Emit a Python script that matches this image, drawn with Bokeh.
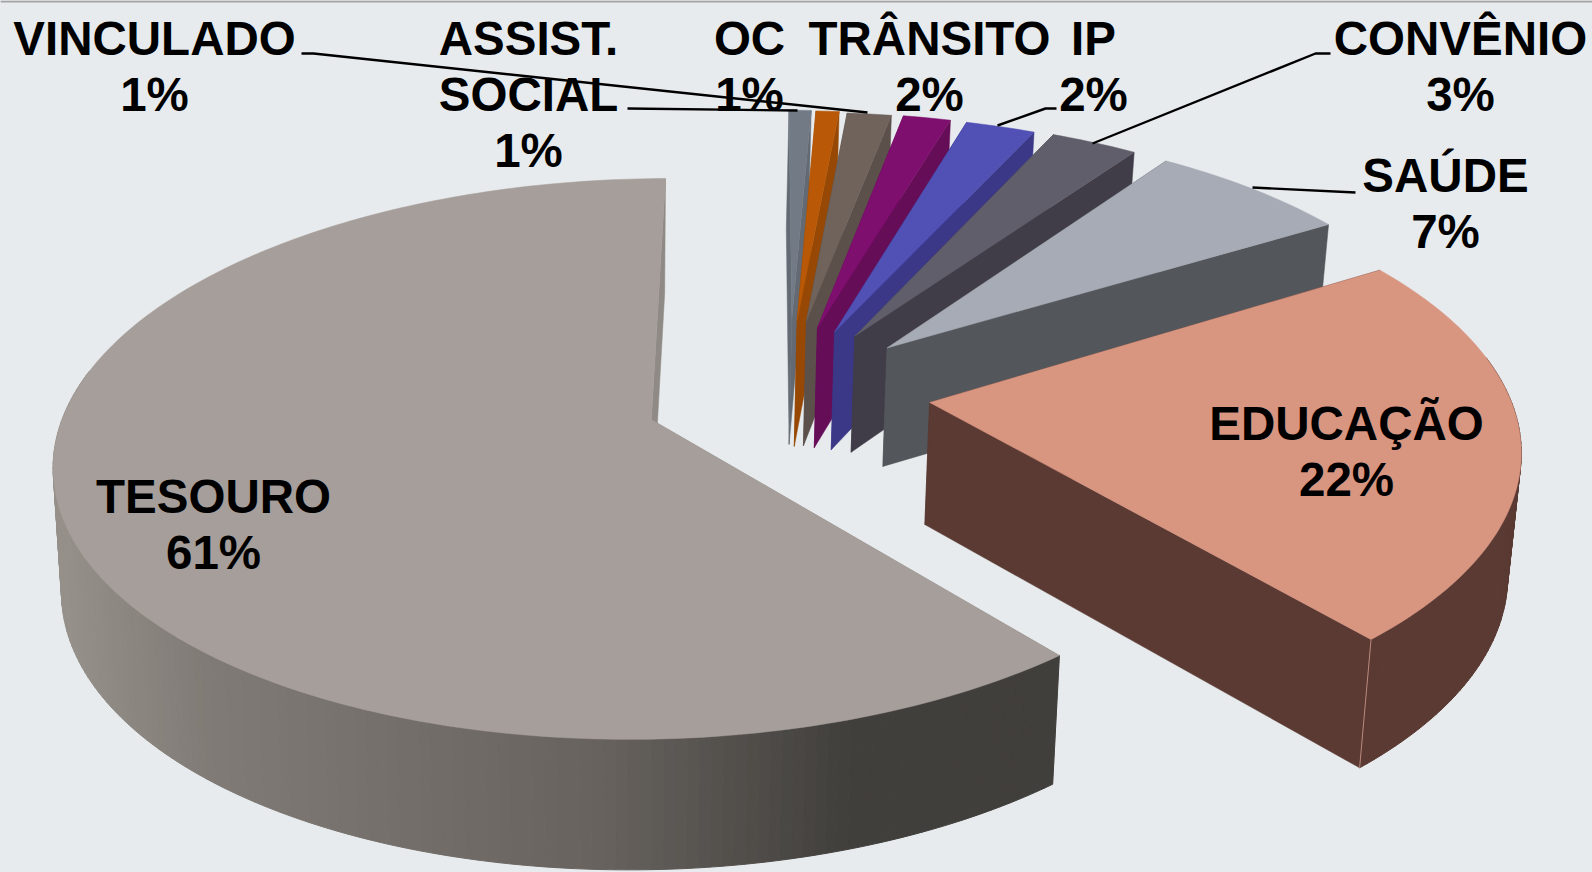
import math
from bokeh.plotting import figure
from bokeh.models import Range1d
from bokeh.core.properties import value
from bokeh.embed import file_html
from bokeh.resources import INLINE

# --- data: clockwise, starting from the top edge of EDUCAÇÃO
slices = ["EDUCAÇÃO", "TESOURO", "slate", "orange", "brown", "purple", "blue", "dark", "gray"]
shares = [22.64, 61.03, 0.75, 0.78, 1.5, 1.57, 2.29, 2.85, 6.59]
explode = [0.24, 0.235, 0.307, 0.30, 0.30, 0.278, 0.272, 0.267, 0.258]
radius = [0.985, 0.99, 0.94, 0.945, 0.94, 0.965, 0.97, 0.975, 0.98]
radius_flare = [0.02, 0, 0, 0, 0, 0, 0, 0, 0]
shift_u = [0.004, -0.008, 0.002, -0.003, -0.008, -0.012, -0.012, -0.014, -0.014]
shift_v = [-0.025, -0.005, 0.0, 0.0, 0.0, 0.0, 0.0, -0.006, -0.015]
depth_extra = [0, 0, 6, 6, 5, 0, -2, -4, -2]
start_extra = [-0.4, 0, 0, 0, 0, 0, 0, 0, 0]
end_extra = [0.4, 0, 0, 0, 0, 0, 0, 0, 0]
top_col = ["#d89580", "#a69e9a", "#727a86", "#b95806", "#6f635c", "#7f0f6e", "#5050b5", "#615e6b", "#a7abb5"]
side_col = ["#5a3a33", "#8f8a85", "#636a73", "#964804", "#5c504a", "#660d58", "#3b3888", "#403d48", "#53565a"]
start_angle = 58.5

BG = "#e7ebee"
CX, CY, SX, SY, PERSP = 787.0, 398.3, 589.0, 271.8, 0.14
VANISH_X, SHRINK = 609.0, 0.015
DEPTH0, DEPTH1 = 122.0, 8.0

def project(u, v):
    w = 1 - PERSP * v
    return CX + u * SX / w, CY + v * SY / w

def lower(u, v, extra=0):
    x, y = project(u, v)
    return x - SHRINK * (x - VANISH_X), y + DEPTH0 + DEPTH1 * v + extra

def pol(a, r, ax, ay):
    t = math.radians(a)
    return ax + r * math.sin(t), ay - r * math.cos(t)

p = figure(width=1592, height=872, x_range=Range1d(0, 1592), y_range=Range1d(872, 0),
           output_backend="svg", toolbar_location=None, background_fill_color=BG,
           border_fill_color=BG, min_border=0)
p.axis.visible = False
p.grid.visible = False
p.outline_line_color = None

tot = sum(shares)
spans = []
a = start_angle
for s, b, e in zip(shares, start_extra, end_extra):
    d = s / tot * 360
    spans.append((a + b, a + d + e))
    a += d

def lerp_col(x):
    stops = [(60, (0x96, 0x90, 0x8a)), (200, (0x80, 0x7b, 0x76)), (600, (0x67, 0x62, 0x5e)), (850, (0x41, 0x3f, 0x3c))]
    if x <= stops[0][0]:
        c = stops[0][1]
    elif x >= stops[-1][0]:
        c = stops[-1][1]
    else:
        for (x0, c0), (x1, c1) in zip(stops, stops[1:]):
            if x0 <= x <= x1:
                f = (x - x0) / (x1 - x0)
                c = tuple(c0[i] + f * (c1[i] - c0[i]) for i in range(3))
    return "#%02x%02x%02x" % tuple(int(round(q)) for q in c)

order = [1, 2, 3, 4, 5, 6, 7, 8, 0]
for i in order:
    a0, a1 = spans[i]
    mid = (a0 + a1) / 2
    ax, ay = pol(mid, explode[i], shift_u[i], shift_v[i])
    ex = depth_extra[i]
    n = max(2, int((a1 - a0) / 1.0))
    angs = [a0 + (a1 - a0) * k / n for k in range(n + 1)]
    rim = [pol(t, radius[i] + radius_flare[i] * (k / n) ** 3, ax, ay) for k, t in enumerate(angs)]
    # cut faces
    for (uu, vv) in (rim[0], rim[-1]):
        top_a, top_b = project(ax, ay), project(uu, vv)
        low_a, low_b = lower(ax, ay, ex), lower(uu, vv, ex)
        xs = [top_a[0], top_b[0], low_b[0], low_a[0]]
        ys = [top_a[1], top_b[1], low_b[1], low_a[1]]
        p.patch(xs, ys, fill_color=side_col[i], line_color=side_col[i], line_width=0.5)
    # outer wall, only where it faces the viewer
    xs_all, ys_all, cols = [], [], []
    for k in range(n):
        t = (angs[k] + angs[k + 1]) / 2 % 360
        if not 80 < t < 280:
            continue
        t0, t1 = rim[k], rim[k + 1]
        q0, q1 = project(*t0), project(*t1)
        l0, l1 = lower(*t0, ex), lower(*t1, ex)
        xs_all.append([q0[0], q1[0], l1[0], l0[0]])
        ys_all.append([q0[1], q1[1], l1[1], l0[1]])
        cols.append(lerp_col((q0[0] + q1[0]) / 2) if i == 1 else side_col[i])
    if xs_all:
        p.patches(xs_all, ys_all, fill_color=cols, line_color=cols, line_width=1)
    # top face
    pts = [project(ax, ay)] + [project(*q) for q in rim]
    p.patch([q[0] for q in pts], [q[1] for q in pts], fill_color=top_col[i], line_color=top_col[i], line_width=0.5)
    if i == 0:
        q, l = project(*rim[-1]), lower(*rim[-1])
        p.line([q[0], l[0]], [q[1], l[1]], line_color="#b98a7c", line_width=1)

# top rule of the slide
p.line([0, 1592], [1, 1], line_color="#a3a3a3", line_width=2)

# leader lines
leaders = [
    ([301, 313, 867], [53, 53, 112]),
    ([627, 797], [108, 110]),
    ([997, 1045, 1056], [125, 108, 108]),
    ([1092, 1315, 1330], [143, 53, 53]),
    ([1252, 1355], [187, 192]),
]
for lx, ly in leaders:
    p.line(lx, ly, line_color="black", line_width=2.4)

label_text = ["VINCULADO", "1%", "ASSIST.", "SOCIAL", "1%", "OC", "1%", "TRÂNSITO", "2%", "IP", "2%",
              "CONVÊNIO", "3%", "SAÚDE", "7%", "EDUCAÇÃO", "22%", "TESOURO", "61%"]
label_x = [154, 154, 528, 528, 528, 749, 749, 929, 929, 1093, 1093, 1460, 1460, 1445, 1445, 1346, 1346, 213, 213]
label_y = [38, 94, 38, 94, 150, 38, 94, 38, 94, 38, 94, 38, 94, 175, 231, 423, 479, 496, 552]
p.text(label_x, label_y, text=label_text, text_font=value("Liberation Sans"), text_font_style="bold",
       text_font_size="47.5px", text_color="black", text_align="center", text_baseline="alphabetic")

html = file_html(p, INLINE)
html = html.replace("<head>", "<head><style>html,body{margin:0;padding:0;background:%s;overflow:hidden}</style>" % BG, 1)
open("out.html", "w").write(html)
